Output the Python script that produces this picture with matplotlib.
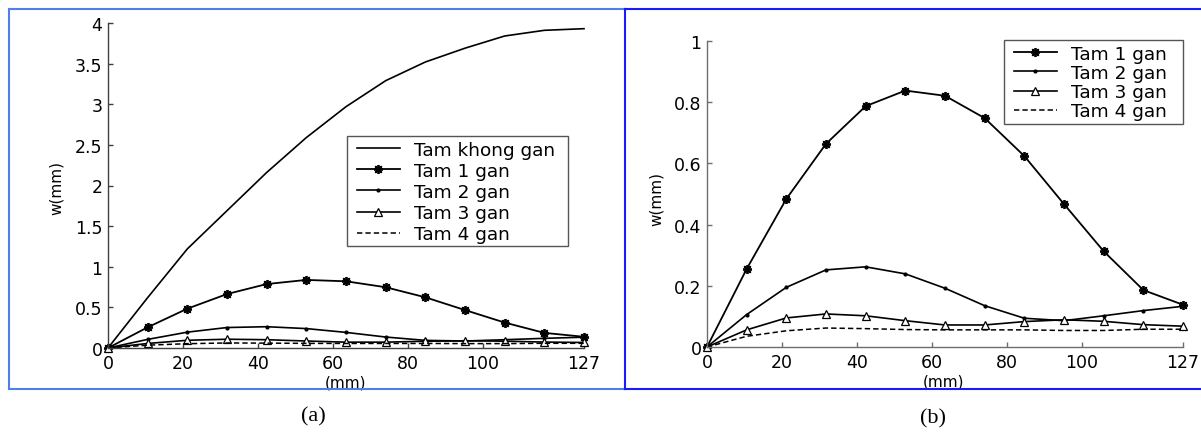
import matplotlib
matplotlib.use("Agg")
import matplotlib.pyplot as plt
from matplotlib.lines import Line2D
from matplotlib.patches import Rectangle

# vi tri doc theo chieu dai tam (mm)
x_mm = [0, 10.58, 21.17, 31.75, 42.33, 52.92, 63.5, 74.08, 84.67, 95.25, 105.83, 116.42, 127]

# do vong w (mm)
w_khong_gan = [0, 0.62, 1.22, 1.69, 2.16, 2.59, 2.97, 3.29, 3.52, 3.69, 3.84, 3.91, 3.93]
w_1_gan = [0, 0.255, 0.484, 0.664, 0.787, 0.838, 0.821, 0.748, 0.624, 0.467, 0.313, 0.186, 0.138]
w_2_gan = [0, 0.106, 0.195, 0.252, 0.262, 0.239, 0.192, 0.135, 0.094, 0.086, 0.102, 0.119, 0.133]
w_3_gan = [0, 0.056, 0.095, 0.108, 0.102, 0.086, 0.072, 0.072, 0.083, 0.089, 0.084, 0.073, 0.068]
w_4_gan = [0, 0.035, 0.053, 0.062, 0.060, 0.057, 0.056, 0.056, 0.056, 0.054, 0.054, 0.058, 0.058]

x_ticks = [0, 20, 40, 60, 80, 100, 127]
y_ticks_a = [0, 0.5, 1, 1.5, 2, 2.5, 3, 3.5, 4]
y_labels_a = ["0", "0.5", "1", "1.5", "2", "2.5", "3", "3.5", "4"]
y_ticks_b = [0, 0.2, 0.4, 0.6, 0.8, 1]
y_labels_b = ["0", "0.2", "0.4", "0.6", "0.8", "1"]

plt.rcParams['font.family'] = ['DejaVu Sans']

fig = plt.figure(figsize=(12.01, 4.35), dpi=100)
W, H = 1201.0, 435.0

# khung xanh quanh hai hinh
def fline(x0, y0, x1, y1, color, lw=1.5):
    fig.add_artist(Line2D([x0 / W, x1 / W], [1 - y0 / H, 1 - y1 / H],
                          transform=fig.transFigure, color=color, lw=lw))

fline(9, 10, 625, 10, '#4f80ea')
fline(9, 10, 9, 390, '#4f80ea')
fline(9, 390, 625, 390, '#4f80ea')
fline(625, 10, 1201, 10, '#1a1aff')
fline(625, 10, 625, 390, '#1a1aff')
fline(625, 390, 1201, 390, '#1a1aff')

ax_a = fig.add_axes([108 / W, 1 - 349 / H, 476 / W, 325 / H])
ax_b = fig.add_axes([707 / W, 1 - 348 / H, 476 / W, 306 / H])


def style_axes(ax, spine_color):
    for s in ['top', 'right']:
        ax.spines[s].set_visible(False)
    for s in ['left', 'bottom']:
        ax.spines[s].set_color(spine_color)
        ax.spines[s].set_linewidth(1.0)
    ax.tick_params(direction='in', length=3.5, width=1.0, color=spine_color,
                   labelsize=12.5, pad=4)
    ax.set_xlim(0, 127)
    ax.set_xticks(x_ticks)
    ax.set_xticklabels([str(t) for t in x_ticks])
    ax.set_facecolor('none')


def draw_gan(ax):
    ax.plot(x_mm, w_1_gan, color='k', lw=1.3, marker=(8, 2, 0), ms=6.5, mew=1.3,
            label='Tam 1 gan', clip_on=False)
    ax.plot(x_mm, w_2_gan, color='k', lw=1.2, marker='.', ms=4,
            label='Tam 2 gan', clip_on=False)
    ax.plot(x_mm, w_3_gan, color='k', lw=1.2, marker='^', ms=6, mfc='white',
            mew=0.9, label='Tam 3 gan', clip_on=False)
    ax.plot(x_mm, w_4_gan, color='k', lw=1.1, ls=(0, (3.5, 2)),
            label='Tam 4 gan', clip_on=False)


def add_legend(ax, box, spacing):
    # box = (trai, tren, phai, duoi) tinh theo pixel cua hinh
    x0, y0, x1, y1 = box
    fig.add_artist(Rectangle((x0 / W, 1 - y1 / H), (x1 - x0) / W, (y1 - y0) / H,
                             transform=fig.transFigure, fill=True, facecolor='white',
                             edgecolor='#555555', lw=1.0, zorder=4))
    leg = ax.legend(loc='upper left', bbox_to_anchor=((x0 + 5) / W, 1 - y0 / H),
                    bbox_transform=fig.transFigure, fontsize=13.3, frameon=False,
                    borderpad=0.25, labelspacing=spacing, handlelength=2.35,
                    handletextpad=0.75, borderaxespad=0)
    leg.set_zorder(5)
    return leg


# (a)
ax_a.plot(x_mm, w_khong_gan, color='k', lw=1.2, label='Tam khong gan', clip_on=False)
draw_gan(ax_a)
style_axes(ax_a, '#404040')
ax_a.set_ylim(0, 4)
ax_a.set_yticks(y_ticks_a)
ax_a.set_yticklabels(y_labels_a)
ax_a.set_ylabel('w(mm)', fontsize=11, va='center')
ax_a.yaxis.set_label_coords(-0.109, 0.495)
ax_a.set_xlabel('(mm)', fontsize=11, va='center')
ax_a.xaxis.set_label_coords(0.498, -0.105)
leg_a = add_legend(ax_a, (347, 137, 568, 247), 0.17)

# (b)
draw_gan(ax_b)
style_axes(ax_b, '#6e6e6e')
ax_b.set_ylim(0, 1)
ax_b.set_yticks(y_ticks_b)
ax_b.set_yticklabels(y_labels_b)
ax_b.set_ylabel('w(mm)', fontsize=11, va='center')
ax_b.yaxis.set_label_coords(-0.106, 0.487)
ax_b.set_xlabel('(mm)', fontsize=11, va='center')
ax_b.xaxis.set_label_coords(0.496, -0.111)
leg_b = add_legend(ax_b, (1004, 41, 1183, 125), 0.07)

# legend nam tren khung trang
fig.legends = []
for ax, leg in [(ax_a, leg_a), (ax_b, leg_b)]:
    ax.legend_ = None
    fig.add_artist(leg)

fig.text(313 / W, 1 - 417 / H, '(a)', ha='center', va='center',
         fontsize=16, family='Liberation Serif')
fig.text(933 / W, 1 - 419 / H, '(b)', ha='center', va='center',
         fontsize=16, family='Liberation Serif')

fig.savefig('out.png', dpi=100)
